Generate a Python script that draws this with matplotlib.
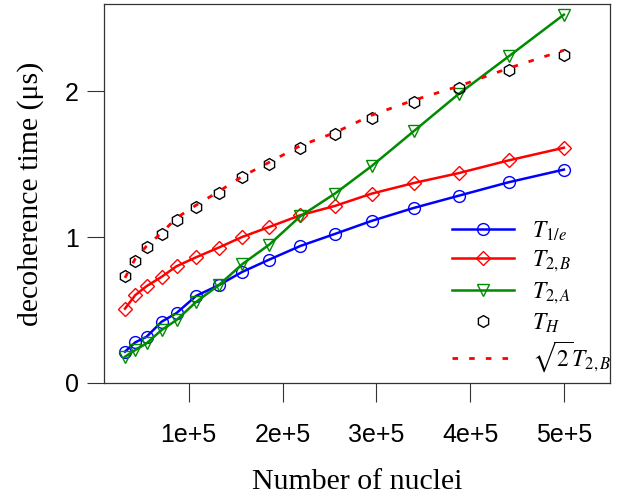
import numpy as np
import matplotlib
matplotlib.use("Agg")
import matplotlib.pyplot as plt

# number of nuclei in the dot
n_nuclei = [3.2e4, 4.3e4, 5.5e4, 7.1e4, 8.7e4, 1.08e5, 1.32e5, 1.57e5,
            1.86e5, 2.19e5, 2.56e5, 2.95e5, 3.40e5, 3.88e5, 4.41e5, 5.0e5]

# decoherence times (us)
t_1e = [0.215, 0.279, 0.317, 0.420, 0.480, 0.598, 0.671, 0.762,
        0.847, 0.940, 1.023, 1.112, 1.201, 1.285, 1.377, 1.464]
t_2b = [0.510, 0.603, 0.664, 0.728, 0.801, 0.863, 0.929, 1.002,
        1.071, 1.151, 1.215, 1.299, 1.372, 1.440, 1.527, 1.614]
t_2a = [0.180, 0.226, 0.272, 0.363, 0.432, 0.557, 0.671, 0.815,
        0.950, 1.144, 1.300, 1.488, 1.728, 1.984, 2.240, 2.527]
t_h = [0.733, 0.836, 0.934, 1.021, 1.116, 1.208, 1.304, 1.413,
       1.505, 1.612, 1.710, 1.820, 1.927, 2.025, 2.144, 2.253]

x_ticks = [1e5, 2e5, 3e5, 4e5, 5e5]
x_tick_labels = ["1e+5", "2e+5", "3e+5", "4e+5", "5e+5"]
y_ticks = [0, 1, 2]


def decoherence_plot():
    plt.rcParams["mathtext.fontset"] = "stix"
    fig = plt.figure(figsize=(6.3, 5), dpi=100)
    ax = fig.add_axes([0.165, 0.234, 0.803, 0.758])

    ms = 8.5
    ax.plot(n_nuclei, t_1e, color="#0000ff", lw=1.8, marker="o", ms=ms,
            mfc="none", mec="#0000ff", mew=1.0, label=r"$T_{1/e}$")
    ax.plot(n_nuclei, t_2b, color="#ff0000", lw=1.8, marker="D", ms=ms * 0.8,
            mfc="none", mec="#ff0000", mew=1.0, label=r"$T_{2,B}$")
    ax.plot(n_nuclei, t_2a, color="#008b00", lw=1.8, marker="v", ms=ms,
            mfc="none", mec="#008b00", mew=1.0, label=r"$T_{2,A}$")
    ax.plot(n_nuclei, t_h, ls="none", marker="h", ms=ms,
            mfc="none", mec="black", mew=1.0, label=r"$T_H$")
    ax.plot(n_nuclei, np.sqrt(2) * np.array(t_2b), color="#ff0000", lw=2,
            ls=(0, (2, 4)), label=r"$\sqrt{2}T_{2,B}$")

    ax.set_xlim(9600, 5.49e5)
    ax.set_ylim(0, 2.6)

    ax.set_xticks(x_ticks)
    ax.set_xticklabels(x_tick_labels)
    ax.set_yticks(y_ticks)
    for lab in ax.get_xticklabels() + ax.get_yticklabels():
        lab.set_family("Liberation Sans")
        lab.set_fontsize(18)
    ax.tick_params(axis="x", direction="out", length=13.5, width=0.8,
                   pad=15, color="#333333")
    ax.tick_params(axis="y", direction="out", length=12, width=0.8,
                   pad=6, color="#333333")
    for sp in ax.spines.values():
        sp.set_linewidth(0.9)
        sp.set_color("#333333")

    ax.set_xlabel("Number of nuclei", family="Liberation Serif",
                  fontsize=21.5, labelpad=16)
    ax.set_ylabel("decoherence time (\u03bcs)", family="Liberation Serif",
                  fontsize=21.5, labelpad=15)

    ax.legend(loc="lower left", bbox_to_anchor=(0.665, -0.008), frameon=False,
              fontsize=17, handlelength=2.6, handletextpad=0.8,
              labelspacing=0.2, borderpad=0)

    fig.savefig("out.png", dpi=100)


if __name__ == "__main__":
    decoherence_plot()
